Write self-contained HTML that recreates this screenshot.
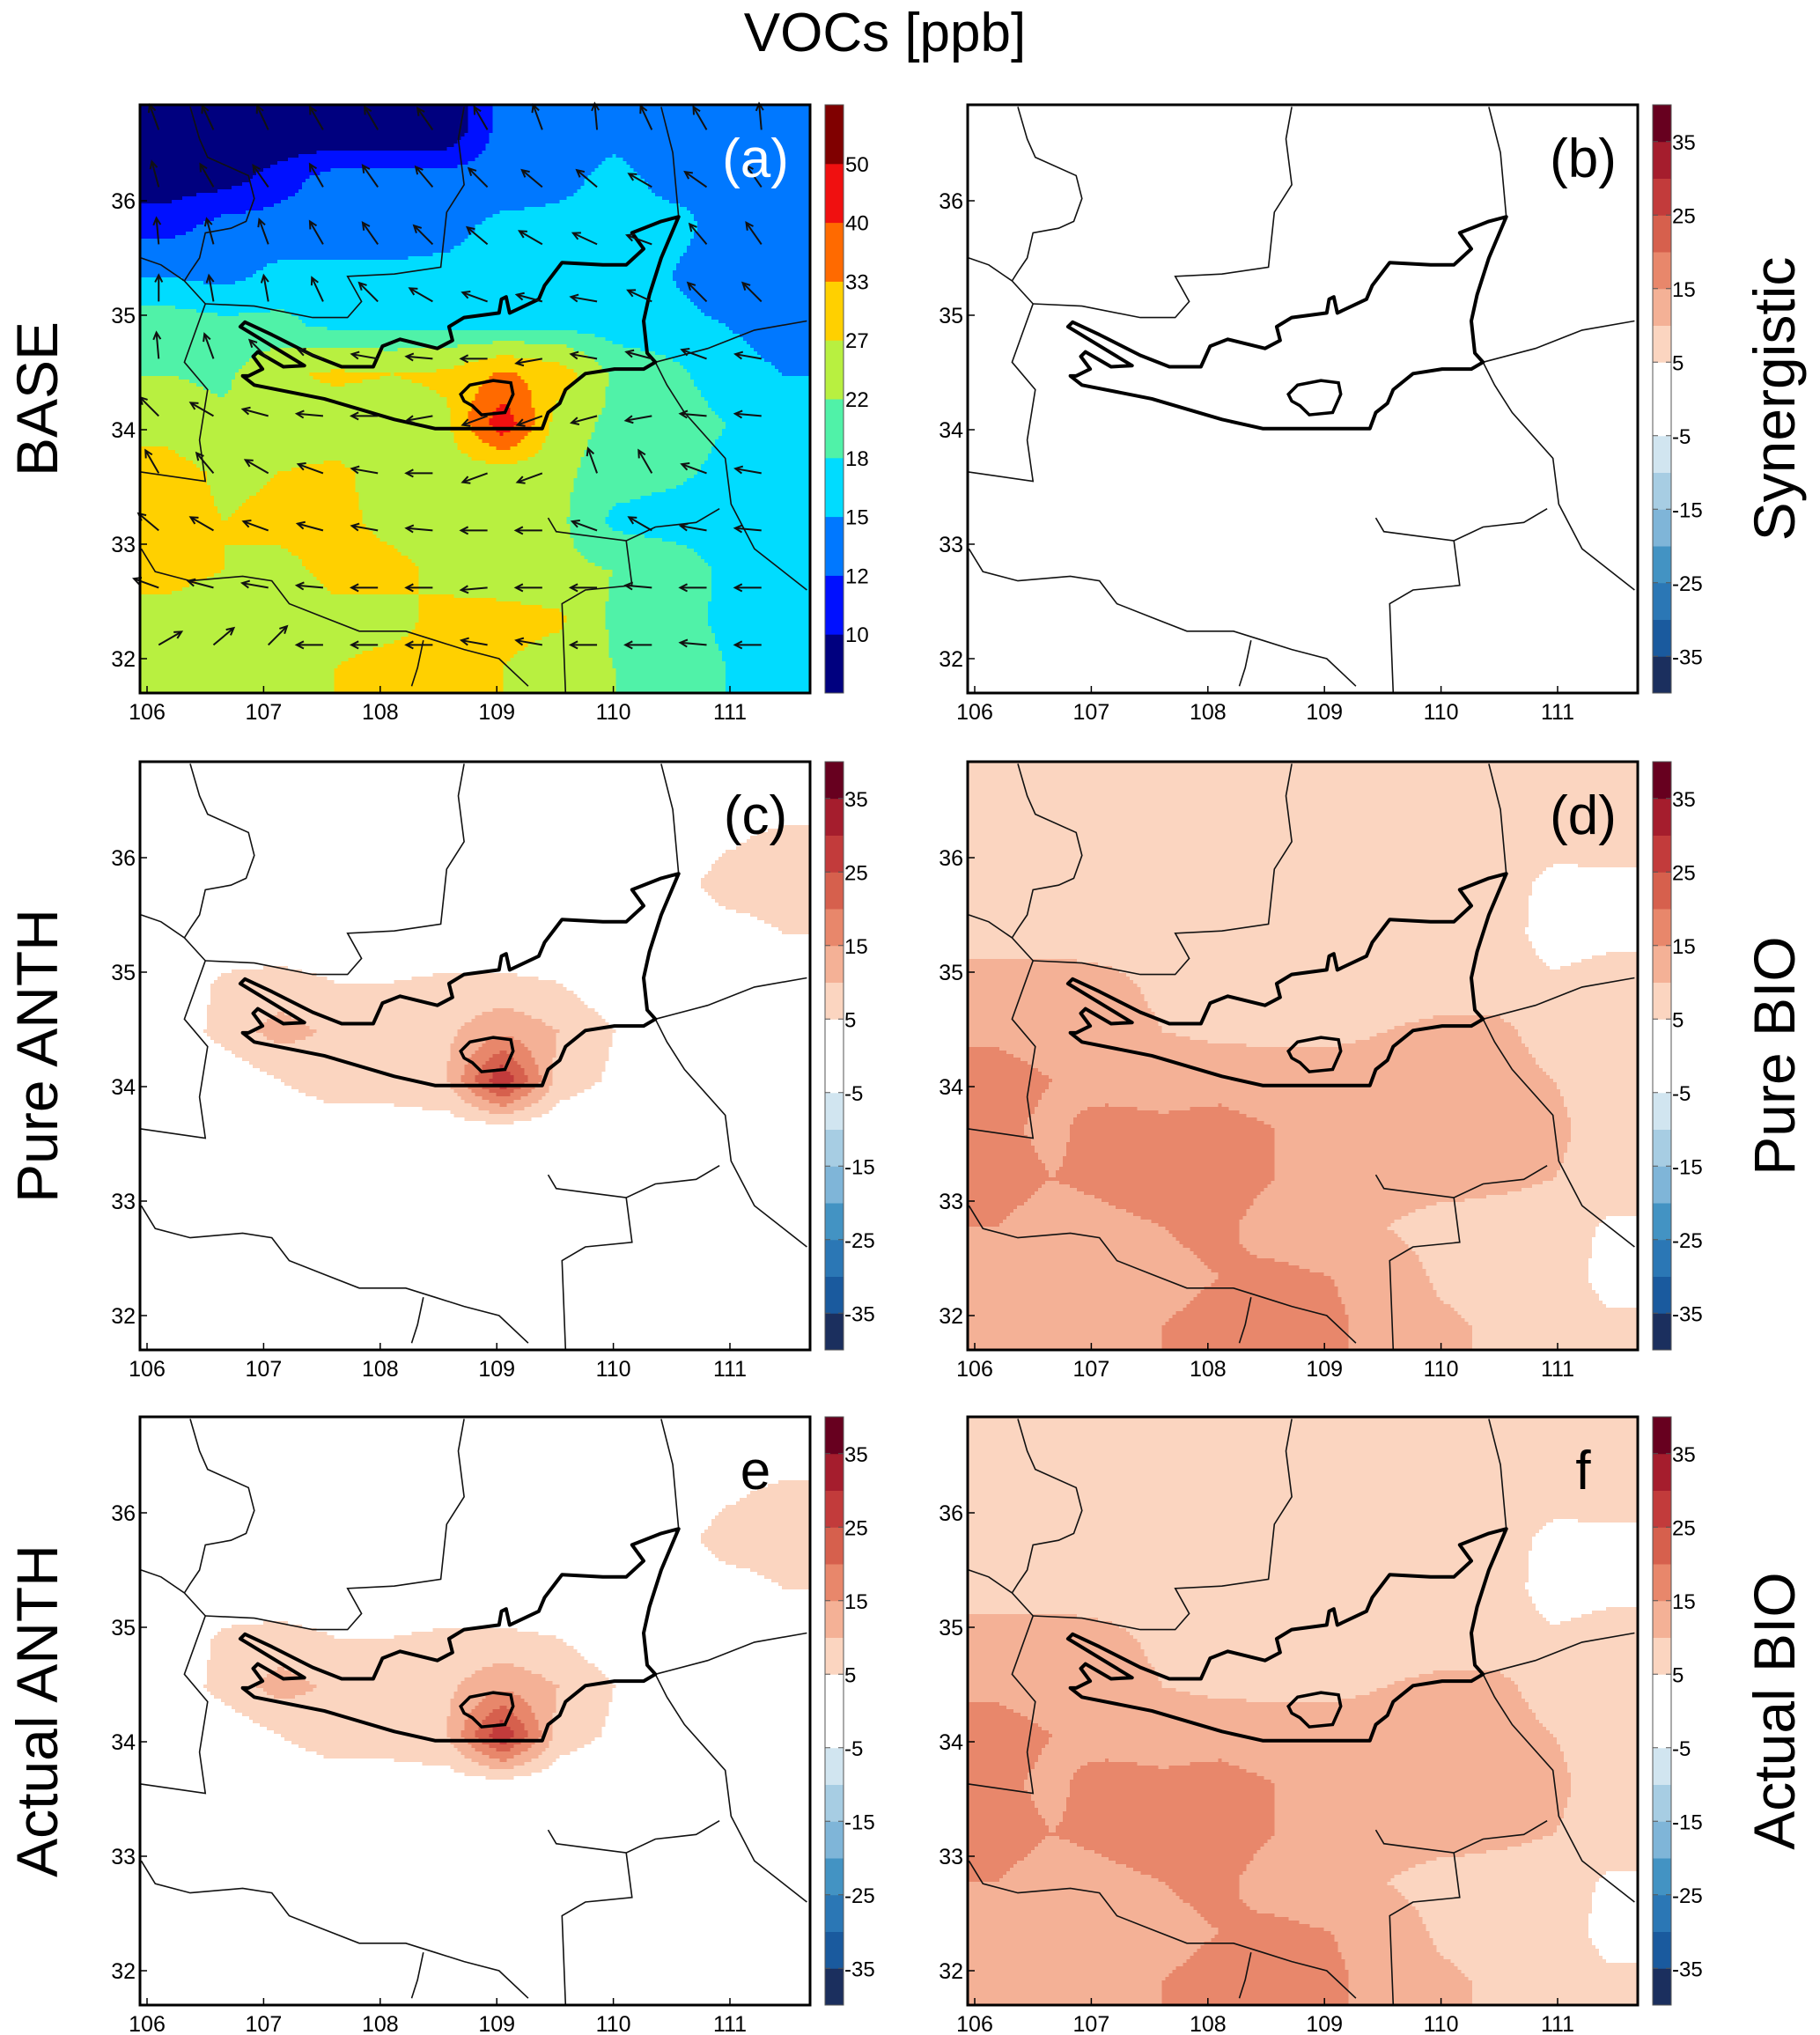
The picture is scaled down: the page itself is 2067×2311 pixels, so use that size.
<!DOCTYPE html>
<html><head><meta charset="utf-8">
<style>
html,body{margin:0;padding:0;background:#fff;}
body{width:2067px;height:2311px;position:relative;overflow:hidden;font-family:"Liberation Sans",sans-serif;}
canvas{position:absolute;image-rendering:pixelated;}
svg{position:absolute;left:0;top:0;}
</style></head>
<body>
<canvas id="cv-a"></canvas>
<canvas id="cv-b"></canvas>
<canvas id="cv-c"></canvas>
<canvas id="cv-d"></canvas>
<canvas id="cv-e"></canvas>
<canvas id="cv-f"></canvas>
<svg id="ov" width="2067" height="2311" xmlns="http://www.w3.org/2000/svg">
<text x="1005" y="58" font-size="62" text-anchor="middle" font-family="Liberation Sans, sans-serif">VOCs [ppb]</text>
</svg>
<script>
// ---- data ----
const xTicks = [106,107,108,109,110,111];
const yTicks = [32,33,34,35,36];
const baseLevels = [10,12,15,18,22,27,33,40,50];
const baseColors = ['#00007f','#0010ff','#0078ff','#00dcff','#50f2a8','#b8f040','#ffd000','#ff6a00','#f01010','#800000'];
const diffLabels = [35,25,15,5,-5,-15,-25,-35];
const diffColors = ['#1b2f5e','#1a5a9e','#2b77b5','#4393c3','#7fb5d8','#a7cde3','#d1e5f0','#ffffff','#ffffff','#fbd5c0','#f4b196','#e8876b','#d6604d','#c23b3b','#a51d2d','#67001f'];
// panel a field (ppb), rows north->south, cols west->east
const baseField = [
[8,8,8,8,8,8,13,13,14,13,13,13],
[9,9,11,13,13,13,13,14,16,14,15,15],
[11,13,13,13,13,14,16,16,16,16,14,14],
[15,14,16,16,16,16,16,16,16,15,13,13],
[20,19,19,17,17,17,16,17,16,16,15,14],
[22,21,26,28,27,28,34,30,21,19,16,15],
[25,23,24,24,24,26,45,24,21,20,18,17],
[29,26,27,28,25,24,24,23,20,19,17,16],
[29,27,28,28,26,25,24,23,17,16,16,16],
[28,27,26,28,28,26,24,23,22,21,17,16],
[26,25,25,26,26,28,29,28,21,20,17,16],
[25,25,26,27,28,28,27,24,22,21,18,17]];
const synField = [[0]];
const anthField = [
[1,1,1,1,1,1,1,1,1,1,1,1],
[1,1,1,1,1,1,1,1,1,1,4,6],
[1,1,1,1,1,1,1,1,1,3,7,7],
[1,1,1,1,1,1,1,1,1,1,3,5],
[1,6,7,5,5,6,6,5,1,1,1,1],
[1,7,12,9,8,9,14,10,5,1,1,1],
[1,1,5,8,8,10,30,8,4,1,1,1],
[1,1,1,2,2,2,2,1,1,1,1,1],
[1,1,1,1,1,1,1,1,1,1,1,1],
[1,1,1,1,1,1,1,1,1,1,2,1],
[1,1,1,1,1,1,1,1,1,1,1,1],
[1,1,1,1,1,1,1,1,1,1,1,1]];
const bioField = [
[8,8,8,8,8,8,8,8,8,8,8,8],
[8,8,8,8,8,8,8,8,8,8,8,7],
[8,8,8,8,8,8,8,8,8,8,3,4],
[8,8,8,8,8,8,8,8,8,8,2,3],
[12,12,11,9,9,9,8,8,8,8,6,8],
[14,13,12,10,9,9,9,10,11,11,8,8],
[17,15,13,13,13,12,12,12,12,12,10,8],
[16,14,17,16,17,15,14,12,12,12,11,8],
[17,15,16,17,17,15,13,12,12,11,10,8],
[15,13,14,15,16,13,12,10,8,8,8,4],
[14,13,13,14,15,16,15,13,9,8,8,3],
[13,13,14,15,16,17,16,13,11,9,8,6]];
// wind direction (deg, 0=east, ccw) for panel a arrows
const windDir = [
[110,115,115,120,120,125,120,110,95,115,120,95],
[105,120,125,120,125,130,135,140,140,150,145,125],
[95,105,110,120,125,135,140,150,155,160,130,125],
[90,100,100,115,135,150,160,165,170,155,135,135],
[95,110,135,160,170,175,180,190,170,165,160,170],
[135,150,165,175,180,190,200,200,195,190,175,175],
[120,130,150,160,170,180,200,200,110,120,160,170],
[140,150,160,165,170,175,180,180,160,150,170,175],
[160,165,170,175,180,180,185,180,180,175,180,180],
[30,40,45,180,180,180,170,170,180,180,175,180]];
// geography (lon, lat)
const basinOutline = [[106.82,34.47],[106.92,34.39],[107.52,34.27],[108.12,34.09],[108.47,34.01],[108.82,34.01],[109.39,34.01],[109.44,34.15],[109.54,34.23],[109.59,34.35],[109.76,34.49],[110.01,34.53],[110.26,34.53],[110.36,34.59],[110.29,34.67],[110.26,34.95],[110.31,35.18],[110.41,35.50],[110.56,35.86],[110.41,35.82],[110.16,35.72],[110.26,35.58],[110.11,35.44],[109.91,35.44],[109.56,35.46],[109.41,35.26],[109.36,35.14],[109.11,35.02],[109.08,35.16],[109.04,35.14],[109.02,35.02],[108.72,34.98],[108.59,34.90],[108.62,34.78],[108.49,34.71],[108.17,34.79],[108.02,34.73],[107.94,34.55],[107.67,34.55],[107.42,34.65],[107.07,34.83],[106.84,34.94],[106.80,34.90],[107.35,34.56],[107.17,34.55],[106.95,34.68],[106.91,34.64],[106.99,34.53],[106.87,34.47]];
const urbanOutline = [[108.69,34.31],[108.77,34.39],[108.97,34.43],[109.12,34.41],[109.14,34.31],[109.07,34.15],[108.87,34.13],[108.79,34.21],[108.72,34.25]];
const borders = [
[[106.37,36.82],[106.45,36.54],[106.52,36.38],[106.87,36.22],[106.92,36.02],[106.85,35.82],[106.72,35.76],[106.50,35.72],[106.45,35.50],[106.37,35.38],[106.32,35.30]],
[[105.95,35.50],[106.12,35.44],[106.32,35.30],[106.50,35.10],[106.32,34.59],[106.52,34.35],[106.45,33.91],[106.50,33.55],[105.95,33.63]],
[[106.50,35.10],[106.92,35.08],[107.42,34.98],[107.72,34.98],[107.84,35.12],[107.72,35.34],[108.12,35.36],[108.52,35.42],[108.57,35.90],[108.72,36.14],[108.67,36.54],[108.72,36.82]],
[[110.41,36.82],[110.51,36.42],[110.56,35.86]],
[[110.36,34.59],[110.46,34.39],[110.61,34.15],[110.96,33.75],[111.01,33.35],[111.21,32.96],[111.66,32.60]],
[[110.36,34.59],[110.81,34.71],[111.21,34.87],[111.66,34.95]],
[[109.44,33.23],[109.51,33.11],[109.81,33.07],[110.11,33.03],[110.36,33.15],[110.71,33.19],[110.91,33.31]],
[[110.11,33.03],[110.16,32.64],[109.76,32.60],[109.56,32.48],[109.59,31.70]],
[[105.95,32.96],[106.07,32.76],[106.37,32.68],[106.82,32.72],[107.07,32.68],[107.22,32.48],[107.52,32.36],[107.82,32.24],[108.22,32.24],[108.47,32.16],[108.72,32.08],[109.02,32.00],[109.27,31.76]],
[[108.37,32.16],[108.32,31.92],[108.27,31.76]]];

// ---- layout ----
const PW=761, PH=668;
const panels = [
 {id:'a',x:159,y:119,field:baseField,kind:'base',letter:'(a)',lc:'#fff',row:'BASE',side:'left'},
 {id:'b',x:1099,y:119,field:synField,kind:'diff',letter:'(b)',lc:'#000',row:'Synergistic',side:'right'},
 {id:'c',x:159,y:865,field:anthField,kind:'diff',letter:'(c)',lc:'#000',row:'Pure ANTH',side:'left'},
 {id:'d',x:1099,y:865,field:bioField,kind:'diff',letter:'(d)',lc:'#000',row:'Pure BIO',side:'right'},
 {id:'e',x:159,y:1609,field:anthField,kind:'diff',letter:'e',lc:'#000',row:'Actual ANTH',side:'left'},
 {id:'f',x:1099,y:1609,field:bioField,kind:'diff',letter:'f',lc:'#000',row:'Actual BIO',side:'right'}];

function baseColor(v){let i=0;while(i<baseLevels.length&&v>=baseLevels[i])i++;return baseColors[i];}
function diffColor(v){let i=Math.floor((v+40)/5);i=Math.max(0,Math.min(15,i));return diffColors[i];}
function sample(f,gx,gy){
 const R=f.length,C=f[0].length;
 gx=Math.max(0,Math.min(C-1,gx));gy=Math.max(0,Math.min(R-1,gy));
 const x0=Math.floor(gx),y0=Math.floor(gy),x1=Math.min(C-1,x0+1),y1=Math.min(R-1,y0+1);
 const tx=gx-x0,ty=gy-y0;
 return (f[y0][x0]*(1-tx)+f[y0][x1]*tx)*(1-ty)+(f[y1][x0]*(1-tx)+f[y1][x1]*tx)*ty;
}
const NS='http://www.w3.org/2000/svg';
const ov=document.getElementById('ov');
function el(tag,attrs,parent){const e=document.createElementNS(NS,tag);for(const k in attrs)e.setAttribute(k,attrs[k]);(parent||ov).appendChild(e);return e;}

panels.forEach(p=>{
 const lonX=lon=>p.x+8+(lon-106)*132.4;
 const latY=lat=>p.y+109+(36-lat)*130;
 // field
 const cv=document.getElementById('cv-'+p.id);
 const S=4, cw=Math.round(PW/S), ch=Math.round(PH/S);
 cv.width=cw;cv.height=ch;cv.style.left=p.x+'px';cv.style.top=p.y+'px';cv.style.width=PW+'px';cv.style.height=PH+'px';
 const ctx=cv.getContext('2d');
 const f=p.field, R=f.length, C=f[0].length;
 for(let j=0;j<ch;j++)for(let i=0;i<cw;i++){
   const v=sample(f,(i+0.5)/cw*C-0.5,(j+0.5)/ch*R-0.5);
   ctx.fillStyle=p.kind==='base'?baseColor(v):diffColor(v);
   ctx.fillRect(i,j,1,1);
 }
 const g=el('g',{});
 
 
 // borders
 borders.forEach(b=>{
   const pl=el('polyline',{points:b.map(q=>lonX(q[0]).toFixed(1)+','+latY(q[1]).toFixed(1)).join(' '),fill:'none',stroke:'#111','stroke-width':1.6},g);
   
   
 });
 const bo=el('polygon',{points:basinOutline.map(q=>lonX(q[0]).toFixed(1)+','+latY(q[1]).toFixed(1)).join(' '),fill:'none',stroke:'#000','stroke-width':4,'stroke-linejoin':'round'},g);
 
 
 const uo=el('polygon',{points:urbanOutline.map(q=>lonX(q[0]).toFixed(1)+','+latY(q[1]).toFixed(1)).join(' '),fill:'none',stroke:'#000','stroke-width':3.5},g);
 
 
 // wind arrows
 if(p.kind==='base'){
   windDir.forEach((row,r)=>row.forEach((d,c)=>{
     const lon=106.1+c*0.47, lat=36.62-r*0.5;
     const x=lonX(lon), y=latY(lat), L=30, a=d*Math.PI/180;
     const x2=x+L*Math.cos(a), y2=y-L*Math.sin(a);
     const ar=el('g',{},g);
     
     
     el('line',{x1:x,y1:y,x2:x2,y2:y2,stroke:'#111','stroke-width':2},ar);
     const h1=a+Math.PI*0.85,h2=a-Math.PI*0.85;
     el('polyline',{points:`${x2+9*Math.cos(h1)},${y2-9*Math.sin(h1)} ${x2},${y2} ${x2+9*Math.cos(h2)},${y2-9*Math.sin(h2)}`,fill:'none',stroke:'#111','stroke-width':2},ar);
   }));
 }
 // frame
 const fr=el('rect',{x:p.x,y:p.y,width:PW,height:PH,fill:'none',stroke:'#000','stroke-width':3},g);
 
 
 // ticks
 xTicks.forEach(t=>{
   const tx=el('text',{x:lonX(t),y:p.y+PH+30,'font-size':25,'text-anchor':'middle'},g);
   tx.textContent=t;
   
   
   el('line',{x1:lonX(t),y1:p.y+PH,x2:lonX(t),y2:p.y+PH-8,stroke:'#000','stroke-width':1.5},g);
 });
 yTicks.forEach(t=>{
   const ty=el('text',{x:p.x-5,y:latY(t)+9,'font-size':25,'text-anchor':'end'},g);
   ty.textContent=t;
   
   
   el('line',{x1:p.x,y1:latY(t),x2:p.x+8,y2:latY(t),stroke:'#000','stroke-width':1.5},g);
 });
 // panel letter
 const lt=el('text',{x:p.x+PW-62,y:p.y+82,'font-size':62,'text-anchor':'middle',fill:p.lc},g);
 lt.textContent=p.letter;
 
 
 // colorbar
 const cbx=p.x+778, cbw=21;
 const cb=el('g',{},g);
 
 
 const cols=p.kind==='base'?baseColors:diffColors;
 const n=cols.length, sh=PH/n;
 cols.forEach((c,i)=>{el('rect',{x:cbx,y:p.y+PH-(i+1)*sh,width:cbw,height:sh+0.5,fill:c},cb);});
 el('rect',{x:cbx,y:p.y,width:cbw,height:PH,fill:'none',stroke:'#555','stroke-width':1},cb);
 if(p.kind==='base'){
   baseLevels.forEach((v,i)=>{
     const yy=p.y+PH-(i+1)*sh;
     const t=el('text',{x:cbx+cbw+2,y:yy+9,'font-size':24},cb);t.textContent=v;
     
     
   });
 } else {
   diffLabels.forEach(v=>{
     const yy=p.y+PH-((v+40)/5)*sh;
     el('line',{x1:cbx,y1:yy,x2:cbx+6,y2:yy,stroke:'#555','stroke-width':1},cb);
     el('line',{x1:cbx+cbw-6,y1:yy,x2:cbx+cbw,y2:yy,stroke:'#555','stroke-width':1},cb);
     const t=el('text',{x:cbx+cbw+1,y:yy+9,'font-size':24},cb);t.textContent=v;
     
     
   });
 }
 // row label
 const cx=p.side==='left'?42:2015, cy=p.y+PH/2;
 const rl=el('text',{x:cx,y:cy,'font-size':66,'text-anchor':'middle','dominant-baseline':'central',transform:`rotate(-90 ${cx} ${cy})`},g);
 rl.textContent=p.row;
 
 
});
</script>
</body></html>
